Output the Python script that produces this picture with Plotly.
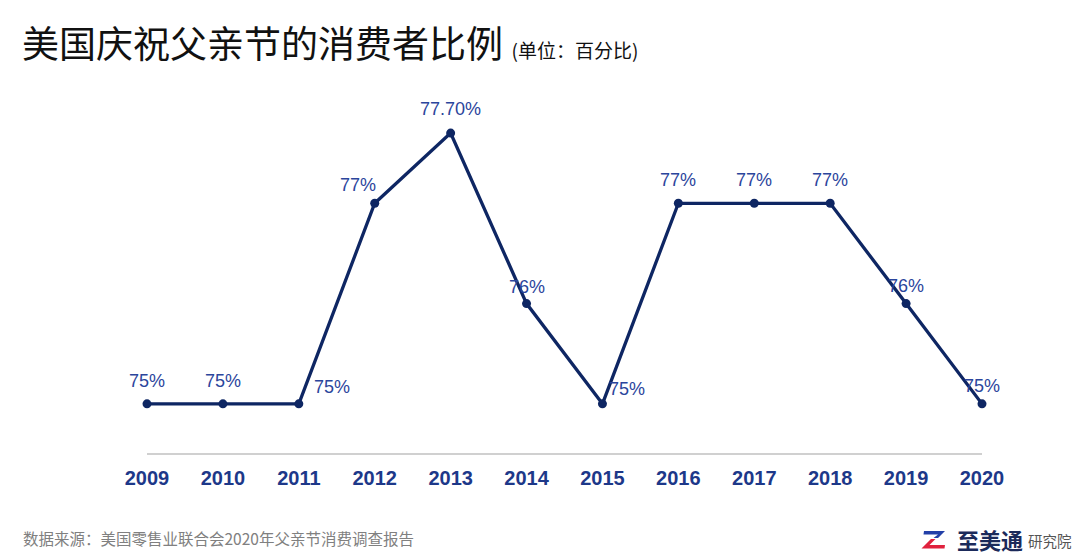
import plotly.graph_objects as go

years = [2009, 2010, 2011, 2012, 2013, 2014, 2015, 2016, 2017, 2018, 2019, 2020]
share = [75, 75, 75, 77, 77.7, 76, 75, 77, 77, 77, 76, 75]
labels = ["75%", "75%", "75%", "77%", "77.70%", "76%", "75%", "77%", "77%", "77%", "76%", "75%"]
# label offsets (px) relative to point
label_dx = [0, 0, 33, -17, 0, 0, 25, 0, 0, 0, 0, 0]
label_dy = [23, 23, 17, 18, 24, 17, 15, 23, 23, 23, 18, 18]

line_color = "#0e2663"
label_color = "#2b459c"

# page-pixel -> paper helpers (plot area spans page x 147..982, y 103..453)
def px(x):
    return (x - 147) / 835

def py(y):
    return (453 - y) / 350

fig = go.Figure()
fig.add_trace(go.Scatter(
    x=years, y=share, mode="lines+markers",
    line=dict(color=line_color, width=3.3),
    marker=dict(color=line_color, size=9),
    cliponaxis=False, hoverinfo="skip", showlegend=False,
))

for x, y, t, dx, dy in zip(years, share, labels, label_dx, label_dy):
    fig.add_annotation(x=x, y=y, text=t, showarrow=False, xshift=dx, yshift=dy,
                       font=dict(family="Liberation Sans, Arial", size=18, color=label_color))

fig.update_xaxes(range=[2009, 2020], tickmode="array", tickvals=years,
                 ticktext=[str(v) for v in years], showgrid=False, zeroline=False,
                 showline=True, linecolor="#d0d0d0", linewidth=2, ticks="",
                 tickfont=dict(family="Liberation Sans, Arial", size=20, color="#1d3889", weight="bold"),
                 ticklabelstandoff=6)
fig.update_yaxes(range=[74.51, 78.0], visible=False, showgrid=False)

fig.add_annotation(xref="paper", yref="paper", x=px(20), y=py(42),
                   xanchor="left", yanchor="middle", showarrow=False,
                   text="美国庆祝父亲节的消费者比例<span style='font-size:19px'>  (单位：百分比)</span>",
                   font=dict(family="Noto Sans CJK SC", size=37, color="#111111"))
fig.add_annotation(xref="paper", yref="paper", x=px(21), y=py(538),
                   xanchor="left", yanchor="middle", showarrow=False,
                   text="数据来源：美国零售业联合会2020年父亲节消费调查报告",
                   font=dict(family="Noto Sans CJK SC", size=15.5, color="#808080"))
fig.add_annotation(xref="paper", yref="paper", x=px(955), y=py(539),
                   xanchor="left", yanchor="middle", showarrow=False,
                   text="<b>至美通</b>",
                   font=dict(family="Noto Sans CJK SC", size=22, color="#1b2a5a"))
fig.add_annotation(xref="paper", yref="paper", x=px(1026), y=py(540),
                   xanchor="left", yanchor="middle", showarrow=False,
                   text="研究院",
                   font=dict(family="Noto Sans CJK SC", size=14.5, color="#555555"))

def path(points):
    return "M " + " L ".join(f"{px(a):.5f},{py(b):.5f}" for a, b in points) + " Z"

fig.add_shape(type="path", xref="paper", yref="paper", line_width=0, fillcolor="#2340a8",
              path=path([(924, 531), (945, 531), (938, 538), (933.5, 538), (938, 534.5), (923.5, 534.5)]))
fig.add_shape(type="path", xref="paper", yref="paper", line_width=0, fillcolor="#e0213d",
              path=path([(931, 539), (935.5, 539), (929.5, 545), (945, 545), (944.5, 548.5), (921.5, 548.5)]))

fig.update_layout(width=1072, height=549, paper_bgcolor="white", plot_bgcolor="white",
                  margin=dict(l=139, r=98, t=95, b=104))
fig.write_html("out.html")
